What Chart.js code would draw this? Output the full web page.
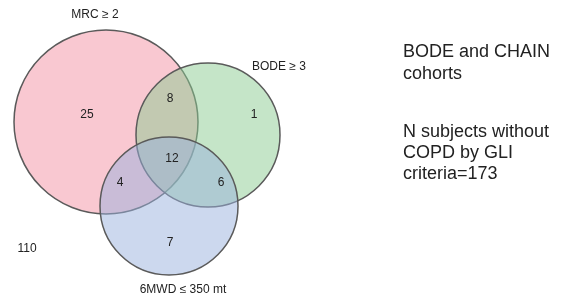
<!DOCTYPE html>
<html>
<head>
<meta charset="utf-8">
<script src="https://cdn.jsdelivr.net/npm/chart.js@4/dist/chart.umd.min.js"></script>
<style>
  body { margin: 0; background: #fff; }
  canvas { display: block; }
</style>
</head>
<body>
<canvas id="myChart" width="563" height="301"></canvas>
<script>
// sets of the venn diagram (circle centre + radius, in diagram units)
var setNames = ['MRC \u2265 2', 'BODE \u2265 3', '6MWD \u2264 350 mt'];
var setX = [106, 208, 169];
var setY = [122, 135, 206];
var setR = [92, 72, 69];
var setColors = ['rgba(243,145,163,0.5)', 'rgba(139,203,145,0.5)', 'rgba(153,177,221,0.5)'];
var setLabelX = [95, 279, 183];
var setLabelY = [15, 67, 290];

// region counts and where they sit
var regionCounts = ['25', '8', '1', '12', '4', '6', '7', '110'];
var regionX = [87, 170, 254, 172, 120, 221, 170, 27];
var regionY = [115, 99, 115, 159, 183, 183, 243, 249];

// side notes
var noteLines = ['BODE and CHAIN', 'cohorts', 'N subjects without', 'COPD by GLI', 'criteria=173'];
var noteY = [57, 79, 137, 158, 179];
var noteX = 403;

var textColor = '#222';
var fontFamily = '"Liberation Sans", Arial, Helvetica, sans-serif';

var datasets = [];
for (var i = 0; i < setNames.length; i++) {
  datasets.push({
    label: setNames[i],
    data: [{ x: setX[i], y: setY[i], r: setR[i] }],
    backgroundColor: setColors[i],
    borderColor: '#5a5a5a',
    borderWidth: 1.5,
    order: setNames.length - i,
    clip: false
  });
}

var textPlugin = {
  id: 'vennText',
  afterDatasetsDraw: function (chart) {
    var c = chart.ctx;
    var xs = chart.scales.x, ys = chart.scales.y;
    c.save();
    c.fillStyle = textColor;
    c.textAlign = 'center';
    c.textBaseline = 'middle';
    c.font = '12px ' + fontFamily;
    for (var i = 0; i < setNames.length; i++) {
      c.fillText(setNames[i], xs.getPixelForValue(setLabelX[i]), ys.getPixelForValue(setLabelY[i]));
    }
    for (var j = 0; j < regionCounts.length; j++) {
      c.fillText(regionCounts[j], xs.getPixelForValue(regionX[j]), ys.getPixelForValue(regionY[j]));
    }
    c.textAlign = 'left';
    c.textBaseline = 'alphabetic';
    c.font = '18px ' + fontFamily;
    for (var k = 0; k < noteLines.length; k++) {
      c.fillText(noteLines[k], xs.getPixelForValue(noteX), ys.getPixelForValue(noteY[k]));
    }
    c.restore();
  }
};

var ctx = document.getElementById('myChart').getContext('2d');
var myChart = new Chart(ctx, {
  type: 'bubble',
  data: { datasets: datasets },
  options: {
    responsive: false,
    animation: false,
    events: [],
    layout: { padding: 0, autoPadding: false },
    scales: {
      x: { type: 'linear', min: 0, max: 563, display: false },
      y: { type: 'linear', min: 0, max: 301, reverse: true, display: false }
    },
    plugins: {
      legend: { display: false },
      tooltip: { enabled: false }
    }
  },
  plugins: [textPlugin]
});
</script>
</body>
</html>
